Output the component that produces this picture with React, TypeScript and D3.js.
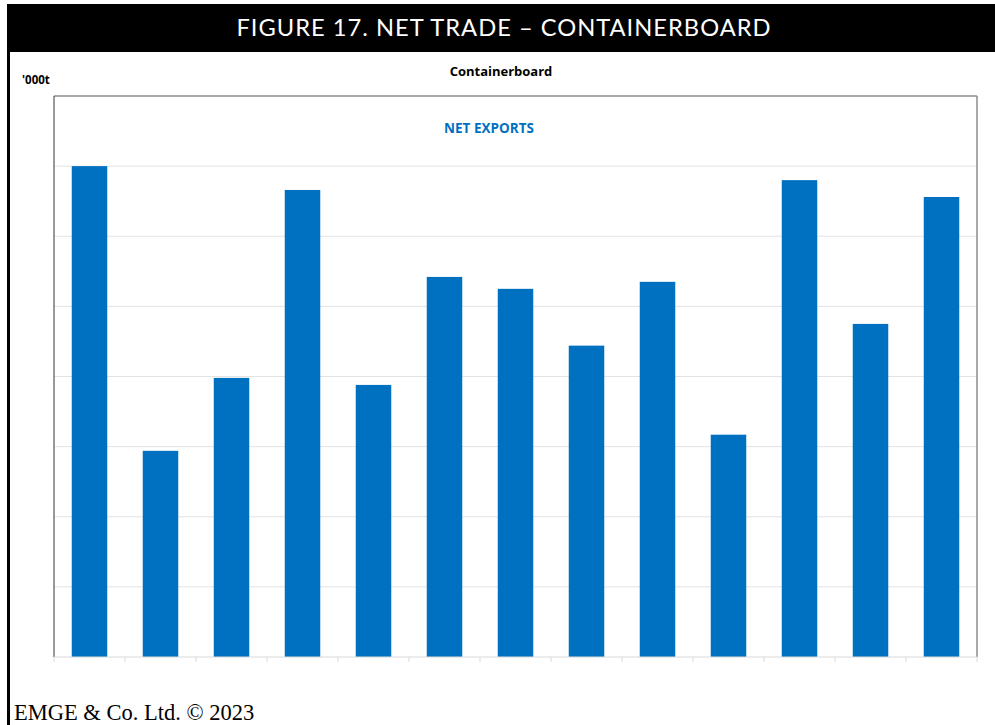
import React from 'react';
import * as d3 from 'd3';

// Net exports per period, '000t (no axis labels in the source; grid every 100)
const periods = ['P1', 'P2', 'P3', 'P4', 'P5', 'P6', 'P7', 'P8', 'P9', 'P10', 'P11', 'P12', 'P13'];
const netExports = [700, 294, 398, 666, 388, 542, 525, 444, 535, 317, 680, 475, 656];
const yTicks = [0, 100, 200, 300, 400, 500, 600, 700, 800];

const W = 995;
const H = 725;
const plot = { left: 54, right: 977, top: 96, bottom: 657 };

export default function App() {
  const x = d3.scaleBand().domain(periods).range([plot.left, plot.right]).paddingInner(0).paddingOuter(0);
  const y = d3.scaleLinear().domain([0, 800]).range([plot.bottom, plot.top]);
  const barW = x.bandwidth() * 0.5;
  const chartFont = "'Open Sans', 'Noto Sans', sans-serif";

  return (
    <svg width={W} height={H} style={{ position: 'absolute', left: 0, top: 0, background: '#fff' }}>
      {/* header band */}
      <rect x={7} y={4} width={W - 7} height={48} fill="#000" />
      <text
        x={504}
        y={36}
        textAnchor="middle"
        fill="#fff"
        fontFamily="Lato, 'Open Sans', sans-serif"
        fontSize={23.7}
        letterSpacing={1}
      >
        FIGURE 17. NET TRADE – CONTAINERBOARD
      </text>
      <rect x={7} y={52} width={3} height={H - 52} fill="#000" />

      {/* titles */}
      <text x={501} y={76} textAnchor="middle" fontFamily={chartFont} fontWeight="bold" fontSize={13} fill="#000">
        Containerboard
      </text>
      <text x={22} y={84} fontFamily={chartFont} fontWeight="bold" fontSize={11.5} fill="#000">
        '000t
      </text>

      {/* gridlines */}
      {yTicks.slice(1, -1).map((t) => (
        <line key={t} x1={plot.left} x2={plot.right} y1={y(t)} y2={y(t)} stroke="#e3e3e3" strokeWidth={1} />
      ))}

      {/* plot border */}
      <line x1={plot.left} x2={plot.right} y1={y(800)} y2={y(800)} stroke="#8c8c8c" strokeWidth={1.5} />
      <line x1={plot.right} x2={plot.right} y1={y(800)} y2={plot.bottom} stroke="#8c8c8c" strokeWidth={1.5} />
      <line x1={plot.left} x2={plot.left} y1={y(800)} y2={plot.bottom} stroke="#555" strokeWidth={1.2} />

      {/* bars */}
      {periods.map((p, i) => (
        <rect
          key={p}
          x={(x(p) as number) + (x.bandwidth() - barW) / 2}
          y={y(netExports[i])}
          width={barW}
          height={y(0) - y(netExports[i])}
          fill="#0070c0"
        />
      ))}

      {/* category axis */}
      <line x1={plot.left} x2={plot.right} y1={y(0)} y2={y(0)} stroke="#d9d9d9" strokeWidth={1} />
      {periods.concat(['end']).map((p, i) => {
        const tx = i < periods.length ? (x(p) as number) : plot.right;
        return <line key={p} x1={tx} x2={tx} y1={y(0)} y2={y(0) + 5} stroke="#d9d9d9" strokeWidth={1} />;
      })}

      <text x={489} y={133} textAnchor="middle" fontFamily={chartFont} fontWeight="bold" fontSize={13.5} fill="#0070c0">
        NET EXPORTS
      </text>

      {/* footer */}
      <text x={14} y={720} fontFamily="'Liberation Serif', 'DejaVu Serif', serif" fontSize={22.5} fill="#000">
        EMGE &amp; Co. Ltd. © 2023
      </text>
    </svg>
  );
}
